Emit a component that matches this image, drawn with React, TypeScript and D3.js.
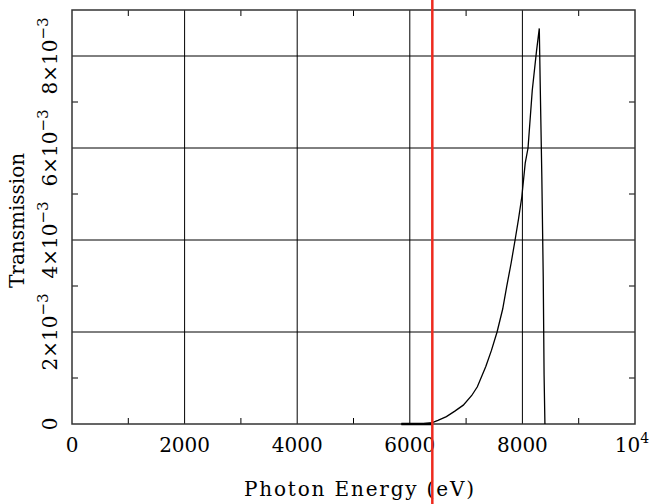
import React from "react";
import * as d3 from "d3";

const energy = [5850, 6000, 6200, 6400, 6500, 6650, 6800, 6950, 7100, 7200, 7350, 7450, 7550, 7650, 7720, 7800, 7870, 7930, 7990, 8050, 8100, 8175, 8250, 8300, 8315, 8345, 8370, 8385, 8400];
const transmission = [0, 0, 0, 0.00003, 0.00008, 0.00016, 0.00028, 0.00041, 0.00062, 0.00081, 0.00125, 0.0016, 0.002, 0.0025, 0.00298, 0.0035, 0.004, 0.00445, 0.00494, 0.00567, 0.006, 0.00725, 0.0081, 0.0086, 0.00748, 0.00538, 0.0032, 0.00107, 0];

const xMajor = [0, 2000, 4000, 6000, 8000, 10000];
const xMajorLabels = ["0", "2000", "4000", "6000", "8000", "10^4"];
const xMinor = [1000, 3000, 5000, 7000, 9000];
const yMajor = [0, 0.002, 0.004, 0.006, 0.008];
const yMajorMantissa = ["0", "2", "4", "6", "8"];
const yMinor = [0.001, 0.003, 0.005, 0.007, 0.009];
const markerEnergy = [6400];

const W = 653, H = 504;
const L = 72, R = 635, T = 10, B = 424;
const FONT = "'DejaVu Serif', serif";

export default function App() {
  const x = d3.scaleLinear().domain([0, 10000]).range([L, R]);
  const y = d3.scaleLinear().domain([0, 0.009]).range([B, T]);
  const pts = energy.map((e, i) => [e, transmission[i]] as [number, number]);
  const line = d3.line<[number, number]>().x(d => x(d[0])).y(d => y(d[1]));

  return (
    <svg width={W} height={H} style={{ position: "absolute", left: 0, top: 0, background: "#fff" }}>
      <rect x={0} y={0} width={W} height={H} fill="#fff" />
      {/* grid */}
      {xMajor.slice(1, -1).map(v => (
        <line key={"gx" + v} x1={x(v)} x2={x(v)} y1={T} y2={B} stroke="#000" strokeWidth={1} />
      ))}
      {yMajor.slice(1).map(v => (
        <line key={"gy" + v} x1={L} x2={R} y1={y(v)} y2={y(v)} stroke="#000" strokeWidth={1} />
      ))}
      {/* minor ticks */}
      {xMinor.map(v => (
        <g key={"mx" + v}>
          <line x1={x(v)} x2={x(v)} y1={B} y2={B - 6} stroke="#000" />
          <line x1={x(v)} x2={x(v)} y1={T} y2={T + 6} stroke="#000" />
        </g>
      ))}
      {yMinor.filter(v => y(v) > T + 2).map(v => (
        <g key={"my" + v}>
          <line x1={L} x2={L + 6} y1={y(v)} y2={y(v)} stroke="#000" />
          <line x1={R} x2={R - 6} y1={y(v)} y2={y(v)} stroke="#000" />
        </g>
      ))}
      {/* frame */}
      <rect x={L} y={T} width={R - L} height={B - T} fill="none" stroke="#333" strokeWidth={1.5} />
      {/* curve */}
      <path d={line(pts) || ""} fill="none" stroke="#000" strokeWidth={1.3} />
      <line x1={x(energy[0])} x2={x(6400)} y1={y(0)} y2={y(0)} stroke="#000" strokeWidth={2.5} />
      {/* x tick labels */}
      {xMajor.map((v, i) => {
        const lab = xMajorLabels[i];
        if (lab.includes("^")) {
          const [b, e] = lab.split("^");
          return (
            <text key={"xl" + v} x={x(v) - 3} y={452} fontFamily={FONT} fontSize={20} textAnchor="middle" fill="#000">
              {b}<tspan dy={-9} fontSize={14}>{e}</tspan>
            </text>
          );
        }
        return (
          <text key={"xl" + v} x={x(v)} y={452} fontFamily={FONT} fontSize={20} textAnchor="middle" fill="#000">{lab}</text>
        );
      })}
      {/* y tick labels */}
      {yMajor.map((v, i) => (
        <text key={"yl" + v} transform={`translate(57,${y(v)}) rotate(-90)`} fontFamily={FONT} fontSize={20} textAnchor="middle" fill="#000">
          {v === 0 ? "0" : (<>{yMajorMantissa[i]}×10<tspan dy={-9} fontSize={15}>−3</tspan></>)}
        </text>
      ))}
      {/* axis titles */}
      <text x={359} y={496} fontFamily={FONT} fontSize={20} textAnchor="middle" textLength={230} lengthAdjust="spacing" fill="#000">Photon Energy (eV)</text>
      <text transform={`translate(24,288) rotate(-90)`} fontFamily={FONT} fontSize={20} textAnchor="start" fill="#000">Transmission</text>
      {/* marker */}
      {markerEnergy.map(e => (
        <line key={"m" + e} x1={x(e)} x2={x(e)} y1={0} y2={H} stroke="#ee2a1e" strokeWidth={2.5} />
      ))}
    </svg>
  );
}
